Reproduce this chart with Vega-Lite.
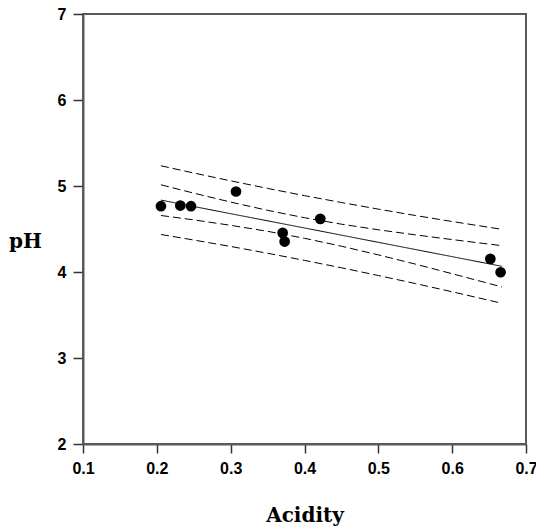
{
  "$schema": "https://vega.github.io/schema/vega-lite/v6.json",
  "autosize": {"type": "none"},
  "padding": {"left": 83, "top": 14, "right": 10, "bottom": 86},
  "width": 443,
  "height": 430,
  "background": "white",
  "config": {
    "view": {"stroke": "#5a5a5a", "strokeWidth": 2},
    "axis": {
      "grid": false,
      "domainColor": "#5a5a5a",
      "domainWidth": 2,
      "tickColor": "#333333",
      "tickWidth": 1.5,
      "labelFont": "Liberation Sans",
      "labelFontWeight": "bold",
      "labelFontSize": 16,
      "labelColor": "#000000",
      "titleFont": "DejaVu Serif",
      "titleFontWeight": "bold",
      "titleFontSize": 20,
      "titleColor": "#000000"
    }
  },
  "datasets": {
    "points": [
      {"Acidity": 0.2056, "pH": 4.765},
      {"Acidity": 0.2318, "pH": 4.773},
      {"Acidity": 0.2463, "pH": 4.765},
      {"Acidity": 0.3072, "pH": 4.936},
      {"Acidity": 0.3704, "pH": 4.455},
      {"Acidity": 0.3731, "pH": 4.354},
      {"Acidity": 0.4214, "pH": 4.618},
      {"Acidity": 0.6517, "pH": 4.153},
      {"Acidity": 0.6656, "pH": 3.997}
    ],
    "lines": [
      {"series": "fit", "kind": "fit", "Acidity": 0.2056, "pH": 4.836},
      {"series": "fit", "kind": "fit", "Acidity": 0.30, "pH": 4.678},
      {"series": "fit", "kind": "fit", "Acidity": 0.40, "pH": 4.512},
      {"series": "fit", "kind": "fit", "Acidity": 0.50, "pH": 4.345},
      {"series": "fit", "kind": "fit", "Acidity": 0.6675, "pH": 4.066},

      {"series": "ci_upper", "kind": "band", "Acidity": 0.2056, "pH": 5.014},
      {"series": "ci_upper", "kind": "band", "Acidity": 0.25, "pH": 4.917},
      {"series": "ci_upper", "kind": "band", "Acidity": 0.30, "pH": 4.813},
      {"series": "ci_upper", "kind": "band", "Acidity": 0.35, "pH": 4.717},
      {"series": "ci_upper", "kind": "band", "Acidity": 0.40, "pH": 4.631},
      {"series": "ci_upper", "kind": "band", "Acidity": 0.45, "pH": 4.556},
      {"series": "ci_upper", "kind": "band", "Acidity": 0.50, "pH": 4.491},
      {"series": "ci_upper", "kind": "band", "Acidity": 0.55, "pH": 4.432},
      {"series": "ci_upper", "kind": "band", "Acidity": 0.60, "pH": 4.377},
      {"series": "ci_upper", "kind": "band", "Acidity": 0.6675, "pH": 4.306},

      {"series": "ci_lower", "kind": "band", "Acidity": 0.2056, "pH": 4.657},
      {"series": "ci_lower", "kind": "band", "Acidity": 0.25, "pH": 4.606},
      {"series": "ci_lower", "kind": "band", "Acidity": 0.30, "pH": 4.543},
      {"series": "ci_lower", "kind": "band", "Acidity": 0.35, "pH": 4.473},
      {"series": "ci_lower", "kind": "band", "Acidity": 0.40, "pH": 4.392},
      {"series": "ci_lower", "kind": "band", "Acidity": 0.45, "pH": 4.300},
      {"series": "ci_lower", "kind": "band", "Acidity": 0.50, "pH": 4.199},
      {"series": "ci_lower", "kind": "band", "Acidity": 0.55, "pH": 4.092},
      {"series": "ci_lower", "kind": "band", "Acidity": 0.60, "pH": 3.980},
      {"series": "ci_lower", "kind": "band", "Acidity": 0.6675, "pH": 3.826},

      {"series": "pi_upper", "kind": "band", "Acidity": 0.2056, "pH": 5.235},
      {"series": "pi_upper", "kind": "band", "Acidity": 0.25, "pH": 5.151},
      {"series": "pi_upper", "kind": "band", "Acidity": 0.30, "pH": 5.060},
      {"series": "pi_upper", "kind": "band", "Acidity": 0.35, "pH": 4.972},
      {"series": "pi_upper", "kind": "band", "Acidity": 0.40, "pH": 4.888},
      {"series": "pi_upper", "kind": "band", "Acidity": 0.45, "pH": 4.808},
      {"series": "pi_upper", "kind": "band", "Acidity": 0.50, "pH": 4.731},
      {"series": "pi_upper", "kind": "band", "Acidity": 0.55, "pH": 4.657},
      {"series": "pi_upper", "kind": "band", "Acidity": 0.60, "pH": 4.587},
      {"series": "pi_upper", "kind": "band", "Acidity": 0.6675, "pH": 4.496},

      {"series": "pi_lower", "kind": "band", "Acidity": 0.2056, "pH": 4.436},
      {"series": "pi_lower", "kind": "band", "Acidity": 0.25, "pH": 4.372},
      {"series": "pi_lower", "kind": "band", "Acidity": 0.30, "pH": 4.297},
      {"series": "pi_lower", "kind": "band", "Acidity": 0.35, "pH": 4.218},
      {"series": "pi_lower", "kind": "band", "Acidity": 0.40, "pH": 4.135},
      {"series": "pi_lower", "kind": "band", "Acidity": 0.45, "pH": 4.049},
      {"series": "pi_lower", "kind": "band", "Acidity": 0.50, "pH": 3.959},
      {"series": "pi_lower", "kind": "band", "Acidity": 0.55, "pH": 3.866},
      {"series": "pi_lower", "kind": "band", "Acidity": 0.60, "pH": 3.770},
      {"series": "pi_lower", "kind": "band", "Acidity": 0.6675, "pH": 3.636}
    ]
  },
  "encoding": {
    "x": {
      "field": "Acidity",
      "type": "quantitative",
      "scale": {"domain": [0.1, 0.7], "nice": false, "zero": false},
      "axis": {
        "title": "Acidity",
        "values": [0.1, 0.2, 0.3, 0.4, 0.5, 0.6, 0.7],
        "format": ".1f",
        "tickSize": 9,
        "labelPadding": 7,
        "labelFlush": false,
        "titleY": 77,
        "titleBaseline": "alphabetic"
      }
    },
    "y": {
      "field": "pH",
      "type": "quantitative",
      "scale": {"domain": [2, 7], "nice": false, "zero": false},
      "axis": {
        "title": "pH",
        "values": [2, 3, 4, 5, 6, 7],
        "tickSize": 10,
        "labelPadding": 7,
        "labelFlush": false,
        "titleAngle": 0,
        "titleX": -58,
        "titleY": 227,
        "titleAlign": "center",
        "titleBaseline": "middle"
      }
    }
  },
  "layer": [
    {
      "data": {"name": "lines"},
      "mark": {"type": "line", "color": "#000000", "strokeWidth": 1},
      "encoding": {
        "detail": {"field": "series", "type": "nominal"},
        "strokeDash": {
          "field": "kind",
          "type": "nominal",
          "scale": {"domain": ["fit", "band"], "range": [[1, 0], [8, 4]]},
          "legend": null
        }
      }
    },
    {
      "data": {"name": "points"},
      "mark": {"type": "point", "shape": "circle", "filled": true, "color": "#000000", "opacity": 1, "size": 115}
    }
  ]
}
